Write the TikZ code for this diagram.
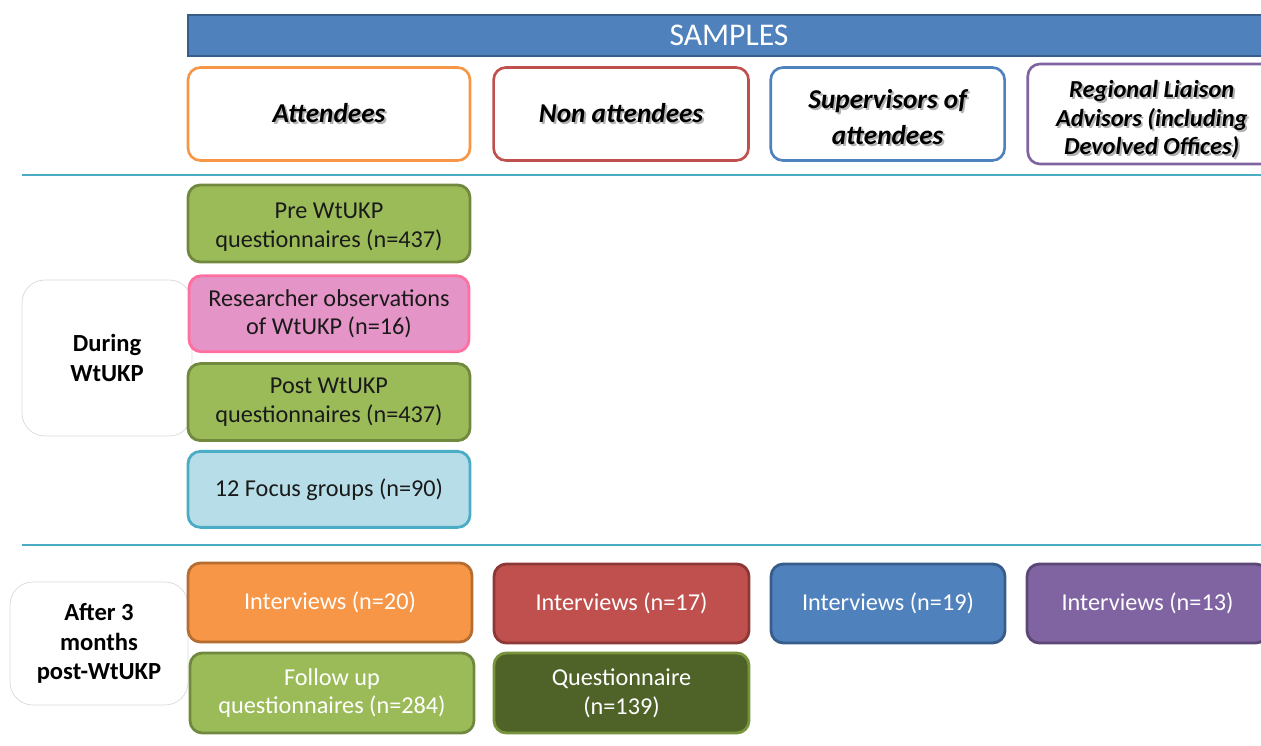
\documentclass[tikz,border=0pt]{standalone}
\usepackage{fontspec}
\setmainfont{Carlito}
\usepackage{tikz}
\usetikzlibrary{positioning}
\definecolor{hdblue}{HTML}{4F81BD}
\definecolor{hdblueD}{HTML}{385D8A}
\definecolor{orng}{HTML}{F79646}
\definecolor{orngD}{HTML}{B66D31}
\definecolor{rd}{HTML}{C0504D}
\definecolor{rdD}{HTML}{8C3836}
\definecolor{purp}{HTML}{8064A2}
\definecolor{purpD}{HTML}{5C4776}
\definecolor{grn}{HTML}{9BBB59}
\definecolor{grnD}{HTML}{71893F}
\definecolor{dkgrn}{HTML}{4F6228}
\definecolor{dkgrnD}{HTML}{77933C}
\definecolor{pnk}{HTML}{E594C7}
\definecolor{pnkD}{HTML}{FF6F9F}
\definecolor{ltblue}{HTML}{B7DEE8}
\definecolor{cyn}{HTML}{4BACC6}
\definecolor{txt}{HTML}{1A1A1A}
\newcommand{\shd}[1]{\leavevmode\rlap{\kern1.1pt\raisebox{-1.1pt}{\textcolor{black!30}{#1}}}#1}
\tikzset{
  headbox/.style={draw=#1,line width=1.5pt,fill=white,rounded corners=7pt,
    minimum height=1.86cm,align=center,inner sep=2pt,
    font=\fontsize{15.5}{17.5}\selectfont\bfseries\itshape},
  databox/.style 2 args={draw=#1,fill=#2,line width=1.6pt,rounded corners=7pt,
    align=center,inner sep=2pt,font=\fontsize{13.8}{16.4}\selectfont},
  phasebox/.style={draw=black!15,line width=0.4pt,rounded corners=13pt,
    align=center,font=\fontsize{14}{17}\selectfont\bfseries},
  sepline/.style={draw=cyn,line width=1.6pt}
}
\begin{document}
\begin{tikzpicture}[x=0.02cm,y=-0.02cm]
  \useasboundingbox (0,0) rectangle (1261,746);
  % phase labels on the left
  \node[phasebox,minimum width=3.4cm,minimum height=3.12cm] (during) at (107,358) {During\\WtUKP};
  \node[phasebox,minimum width=3.56cm,minimum height=2.46cm] (after) at (99,643.5) {After 3\\months\\post-WtUKP};
  % title bar
  \node[draw=hdblueD,fill=hdblue,line width=1.2pt,minimum width=21.64cm,minimum height=0.82cm,
    text=white,font=\fontsize{18}{20}\selectfont] (samples) at (729,35.5) {SAMPLES};
  % sample groups
  \node[headbox=orng,minimum width=5.64cm] (att) at (329,114) {\shd{Attendees}};
  \node[headbox=rd,minimum width=5.1cm,right=0.42cm of att] (nonatt) {\shd{Non attendees}};
  \node[headbox=hdblue,minimum width=4.68cm,right=0.39cm of nonatt] (sup) {\rule{0pt}{15pt}\shd{Supervisors of}\\[3pt]\shd{attendees}};
  \node[headbox=purp,minimum width=4.96cm,right=0.41cm of sup,
    font=\fontsize{13.9}{16.4}\selectfont\bfseries\itshape] (rla)
    {\rule{0pt}{17pt}\shd{Regional Liaison}\\\shd{Advisors (including}\\\shd{Devolved Offices)}};
  \draw[sepline] (22,175) -- (1261,175);
  % during WtUKP
  \node[databox={grnD}{grn},text=txt,minimum width=5.64cm,minimum height=1.54cm] (pre) at (329,223.5) {\rule{0pt}{13pt}Pre WtUKP\\questionnaires (n=437)};
  \node[databox={pnkD}{pnk},text=txt,minimum width=5.6cm,minimum height=1.52cm,below=0.22cm of pre] (obs) {Researcher observations\\of WtUKP (n=16)};
  \node[databox={grnD}{grn},text=txt,minimum width=5.64cm,minimum height=1.54cm,below=0.18cm of obs] (post) {Post WtUKP\\questionnaires (n=437)};
  \node[databox={cyn}{ltblue},text=txt,minimum width=5.64cm,minimum height=1.52cm,below=0.16cm of post] (focus) {12 Focus groups (n=90)};
  \draw[sepline] (22,545) -- (1261,545);
  % after 3 months
  \node[databox={orngD}{orng},text=white,minimum width=5.68cm,minimum height=1.58cm] (int20) at (330,602.5) {Interviews (n=20)};
  \node[databox={rdD}{rd},text=white,minimum width=5.1cm,minimum height=1.58cm] (int17) at (621.5,603.5) {Interviews (n=17)};
  \node[databox={hdblueD}{hdblue},text=white,minimum width=4.68cm,minimum height=1.58cm] (int19) at (888,603.5) {Interviews (n=19)};
  \node[databox={purpD}{purp},text=white,minimum width=4.82cm,minimum height=1.58cm] (int13) at (1147.5,603.5) {Interviews (n=13)};
  \node[databox={grnD}{grn},text=white,minimum width=5.68cm,minimum height=1.6cm] (follow) at (332,693) {Follow up\\questionnaires (n=284)};
  \node[databox={dkgrnD}{dkgrn},text=white,minimum width=5.1cm,minimum height=1.6cm] (quest) at (621.5,693) {Questionnaire\\(n=139)};
\end{tikzpicture}
\end{document}
